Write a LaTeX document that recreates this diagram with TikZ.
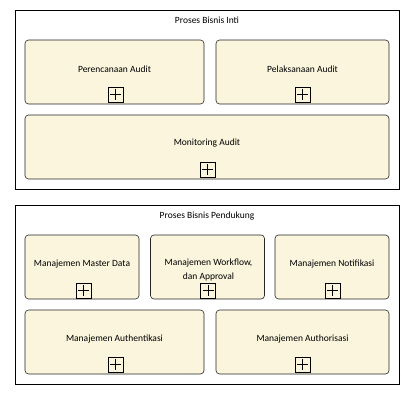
\documentclass[tikz,border=0pt]{standalone}
\usepackage{fontspec}
\setmainfont{Carlito}
\definecolor{procfill}{RGB}{250,245,220}
\tikzset{
  grp/.style={draw=black, line width=0.8pt, fill=white, rectangle, inner sep=0pt},
  proc/.style={draw=black!85, line width=0.6pt, fill=procfill, rectangle, rounded corners=3.5pt, inner sep=0pt},
  lbl/.style={font=\fontsize{9.5}{13.5}\selectfont, align=center, inner sep=0pt},
  plusbox/.style={draw=black, line width=0.7pt, fill=procfill, rectangle, minimum width=15pt, minimum height=15pt, inner sep=0pt,
    path picture={\draw[line width=0.6pt] ([xshift=2pt]path picture bounding box.west) -- ([xshift=-2pt]path picture bounding box.east);
                  \draw[line width=0.6pt] ([yshift=-2pt]path picture bounding box.north) -- ([yshift=2pt]path picture bounding box.south);}}
}
\begin{document}
\begin{tikzpicture}[x=1pt,y=-1pt]
\useasboundingbox[fill=white] (0,0) rectangle (415,404);
% group 1
\node[grp, minimum width=384pt, minimum height=179pt] (g1) at (207,99.5) {};
\node[lbl] (g1t) at (207,20) {Proses Bisnis Inti};
\node[proc, minimum width=179pt, minimum height=64pt] (p1) at (114.5,72) {};
\node[lbl] (p1t) at (114.5,69) {Perencanaan Audit};
\node[plusbox] (p1p) at (115.5,94.5) {};
\node[proc, minimum width=173pt, minimum height=64pt] (p2) at (302.5,72) {};
\node[lbl] (p2t) at (302.5,69) {Pelaksanaan Audit};
\node[plusbox] (p2p) at (302.5,94.5) {};
\node[proc, minimum width=364pt, minimum height=64pt] (p3) at (207,147) {};
\node[lbl] (p3t) at (207,143.5) {Monitoring Audit};
\node[plusbox] (p3p) at (207.5,169.5) {};
% group 2
\node[grp, minimum width=384pt, minimum height=179pt] (g2) at (207,294.5) {};
\node[lbl] (g2t) at (207,216) {Proses Bisnis Pendukung};
\node[proc, minimum width=114pt, minimum height=64pt] (s1) at (82,267) {};
\node[lbl] (s1t) at (82,264) {Manajemen Master Data};
\node[plusbox] (s1p) at (83.5,290.5) {};
\node[proc, minimum width=114pt, minimum height=64pt] (s2) at (207.5,267) {};
\node[lbl] (s2t) at (208.5,270) {Manajemen Workflow,\\dan Approval};
\node[plusbox] (s2p) at (208,290.5) {};
\node[proc, minimum width=114pt, minimum height=64pt] (s3) at (332,267) {};
\node[lbl] (s3t) at (332,264) {Manajemen Notifikasi};
\node[plusbox] (s3p) at (332.5,290.5) {};
\node[proc, minimum width=179pt, minimum height=64pt] (s4) at (114.5,342) {};
\node[lbl] (s4t) at (114.5,339) {Manajemen Authentikasi};
\node[plusbox] (s4p) at (115.5,364.5) {};
\node[proc, minimum width=173pt, minimum height=64pt] (s5) at (302.5,342) {};
\node[lbl] (s5t) at (302.5,339) {Manajemen Authorisasi};
\node[plusbox] (s5p) at (302.5,364.5) {};
\end{tikzpicture}
\end{document}
